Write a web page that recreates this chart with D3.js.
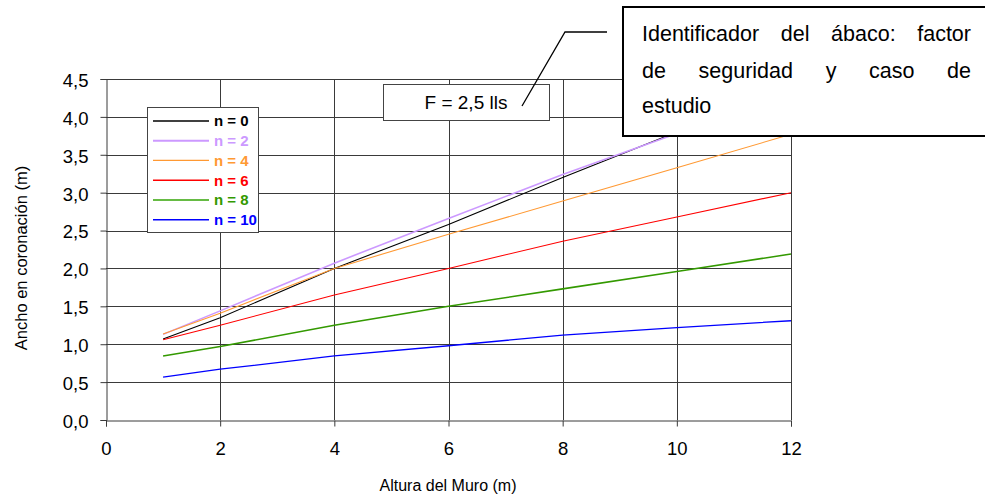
<!DOCTYPE html>
<html>
<head>
<meta charset="utf-8">
<script src="https://cdn.jsdelivr.net/npm/d3@7"></script>
<style>
  html, body { margin: 0; padding: 0; background: #fff; }
  svg { display: block; font-family: "Liberation Sans", Arial, sans-serif; }
</style>
</head>
<body>
<svg id="chart" width="985" height="500"></svg>
<script>
// Wall height (m) at which each curve is evaluated
const alturas = [1, 2, 4, 6, 8, 10, 12];

// Crest width (m) for each n
const n0  = [1.07, 1.35, 2.00, 2.58, 3.20, 3.80, 4.38];
const n2  = [1.13, 1.44, 2.07, 2.66, 3.24, 3.78, 4.30];
const n4  = [1.135, 1.41, 2.00, 2.45, 2.89, 3.33, 3.77];
const n6  = [1.06, 1.25, 1.65, 2.00, 2.36, 2.68, 3.00];
const n8  = [0.845, 0.97, 1.25, 1.50, 1.73, 1.96, 2.19];
const n10 = [0.567, 0.67, 0.845, 0.98, 1.12, 1.22, 1.31];

const seriesNames = ["n = 0", "n = 2", "n = 4", "n = 6", "n = 8", "n = 10"];
const seriesValues = [n0, n2, n4, n6, n8, n10];
const seriesColors = ["#000000", "#cc99ff", "#ff9933", "#ff0000", "#339900", "#0000ff"];
const seriesWidths = [1.1, 1.6, 1.1, 1.1, 1.6, 1.3];
const legendColors = ["#000000", "#cc99ff", "#ff9933", "#ff0000", "#339900", "#0000ff"];
const legendLineColors = ["#000000", "#cc99ff", "#ff9933", "#ff0000", "#66bb44", "#0000ff"];

const xTicks = [0, 2, 4, 6, 8, 10, 12];
const yTicks = [0, 0.5, 1, 1.5, 2, 2.5, 3, 3.5, 4, 4.5];

const svg = d3.select("#chart");
const x = d3.scaleLinear().domain([0, 12]).range([106, 791]);
const y = d3.scaleLinear().domain([0, 4.5]).range([420, 79]);
const fmt = d => d3.format(".1f")(d).replace(".", ",");

// Grid
const grid = svg.append("g").attr("stroke", "#3a3a3a").attr("stroke-width", 1);
grid.selectAll("line.h").data(yTicks.filter(d => d > 0)).join("line")
  .attr("x1", x(0)).attr("x2", x(12))
  .attr("y1", d => Math.round(y(d)) + 0.5).attr("y2", d => Math.round(y(d)) + 0.5);
grid.selectAll("line.v").data(xTicks.filter(d => d > 0)).join("line")
  .attr("y1", y(0)).attr("y2", y(4.5))
  .attr("x1", d => Math.round(x(d)) + 0.5).attr("x2", d => Math.round(x(d)) + 0.5);

// Axes
const yAxis = svg.append("g").attr("transform", `translate(${Math.round(x(0)) + 0.5},0)`)
  .call(d3.axisLeft(y).tickValues(yTicks).tickFormat(fmt).tickSize(6).tickPadding(12));
const xAxis = svg.append("g").attr("transform", `translate(0,${Math.round(y(0)) + 0.5})`)
  .call(d3.axisBottom(x).tickValues(xTicks).tickSize(6).tickPadding(15));
[yAxis, xAxis].forEach(a => {
  a.select(".domain").attr("stroke", "#3a3a3a");
  a.selectAll(".tick line").attr("stroke", "#3a3a3a");
  a.selectAll(".tick text").attr("font-size", 18.5).attr("fill", "#000")
    .attr("font-family", "Liberation Sans, Arial, sans-serif");
});
yAxis.selectAll(".tick text").attr("dy", "0.4em");

// Axis titles
svg.append("text").attr("x", 448).attr("y", 491).attr("text-anchor", "middle")
  .attr("font-size", 16).text("Altura del Muro (m)");
svg.append("text").attr("transform", "translate(27,258) rotate(-90)").attr("text-anchor", "middle")
  .attr("font-size", 16.5).text("Ancho en coronación (m)");

// Curves
const line = d3.line().x((d, i) => x(alturas[i])).y(d => y(d));
svg.append("g").selectAll("path").data(seriesValues).join("path")
  .attr("d", d => line(d)).attr("fill", "none")
  .attr("stroke", (d, i) => seriesColors[i])
  .attr("stroke-width", (d, i) => seriesWidths[i]);

// Legend
const lg = svg.append("g");
lg.append("rect").attr("x", 147.5).attr("y", 107.5).attr("width", 111).attr("height", 125)
  .attr("fill", "#fff").attr("stroke", "#444");
const rowsY = [121, 140.7, 160.4, 180.2, 200, 219.8];
seriesNames.forEach((name, i) => {
  lg.append("line").attr("x1", 153).attr("x2", 209).attr("y1", rowsY[i]).attr("y2", rowsY[i])
    .attr("stroke", legendLineColors[i]).attr("stroke-width", seriesWidths[i] + 0.3);
  lg.append("text").attr("x", 214).attr("y", rowsY[i]).attr("dy", "0.36em")
    .attr("font-size", 15).attr("font-weight", "bold").attr("fill", legendColors[i]).text(name);
});

// Chart identifier box
svg.append("rect").attr("x", 383.5).attr("y", 84.5).attr("width", 166).attr("height", 36)
  .attr("fill", "#fff").attr("stroke", "#444");
svg.append("text").attr("x", 466).attr("y", 109).attr("text-anchor", "middle")
  .attr("font-size", 19).text("F = 2,5 lls");

// Callout leader
svg.append("path").attr("d", "M522,106 L565,32 L607,32").attr("fill", "none")
  .attr("stroke", "#000").attr("stroke-width", 1.3);

// Callout box with justified text
svg.append("rect").attr("x", 623).attr("y", 7).attr("width", 380).attr("height", 129)
  .attr("fill", "#fff").attr("stroke", "#000").attr("stroke-width", 2);
const calloutLines = [
  { words: ["Identificador", "del", "ábaco:", "factor"], y: 41, justify: true },
  { words: ["de", "seguridad", "y", "caso", "de"], y: 78, justify: true },
  { words: ["estudio"], y: 113, justify: false }
];
const left = 642, right = 971;
calloutLines.forEach(l => {
  const nodes = l.words.map(w => svg.append("text").attr("y", l.y).attr("font-size", 21.5).text(w));
  const widths = nodes.map(n => n.node().getComputedTextLength());
  const total = d3.sum(widths);
  const gap = l.justify && l.words.length > 1 ? (right - left - total) / (l.words.length - 1) : 6;
  let cx = left;
  nodes.forEach((n, i) => { n.attr("x", cx); cx += widths[i] + gap; });
});
</script>
</body>
</html>
